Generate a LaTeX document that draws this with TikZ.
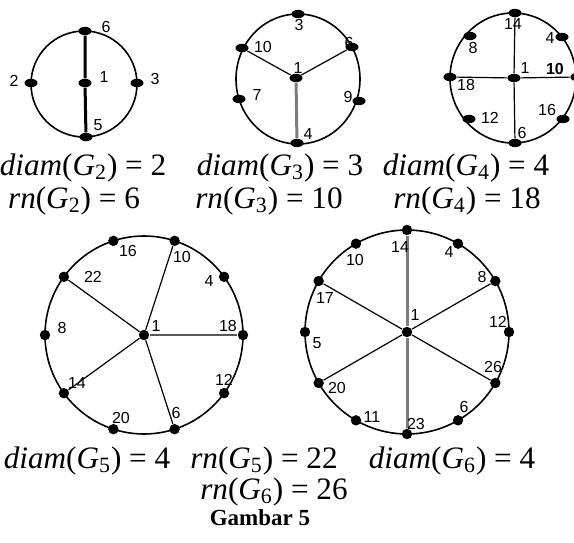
\documentclass[tikz,border=0pt]{standalone}
\usepackage{fontspec}
\setmainfont{Liberation Serif}
\newfontfamily\labelfont{Liberation Sans}
\usetikzlibrary{positioning,calc}
\usetikzlibrary{shapes.geometric}
\definecolor{SpokeGray}{RGB}{125,125,125}
\tikzset{
	blob/.style={ellipse,fill=black,inner sep=0pt,minimum width=6.5pt,minimum height=4.2pt},
	v/.style={circle,fill=black,inner sep=0pt,minimum size=5.2pt},
	rim/.style={draw=black,line width=0.8pt},
	edge/.style={draw=black,line width=0.6pt},
	heavy/.style={draw=SpokeGray,line width=1.5pt},
	num/.style={font=\labelfont\fontsize{8}{9}\selectfont,inner sep=0pt},
	eq/.style={font=\fontsize{15.6}{17}\selectfont,anchor=base,inner sep=0pt},
}
\begin{document}
\begin{tikzpicture}[x=0.5pt,y=-0.5pt]
	\useasboundingbox (0,0) rectangle (574,542);
	\clip (0,0) rectangle (574,542);
	% G2
	\coordinate (ac) at (84,84);
	\draw[rim] (ac) circle [radius=53];
	\node[blob] (a6) at (85,31) {};
	\node[blob] (a2) at (31,83) {};
	\node[blob] (a1) at (85,83) {};
	\node[blob] (a3) at (137,83) {};
	\node[blob] (a5) at (86,137) {};
	\draw[draw=black,line width=1.5pt] (a6) -- (a1) -- (a5);
	\node[num] (la6) at (106,27) {6};
	\node[num] (la2) at (14,81) {2};
	\node[num] (la1) at (104,77) {1};
	\node[num] (la3) at (155,79) {3};
	\node[num] (la5) at (98,125) {5};
	% G3
	\coordinate (bc) at (298,79);
	\draw[rim] (bc) ellipse [x radius=62,y radius=65];
	\node[blob] (b3) at (298,14) {};
	\node[blob] (b10) at (242,48) {};
	\node[blob] (b6) at (352,47) {};
	\node[blob] (b1) at (296,78) {};
	\node[blob] (b7) at (239,99) {};
	\node[blob] (b9) at (359,101) {};
	\node[blob] (b4) at (297,143) {};
	\draw[edge] (b1) -- (b10);
	\draw[edge] (b1) -- (b6);
	\draw[heavy] (b1) -- (b4);
	\node[num] (lb3) at (299,25) {3};
	\node[num] (lb10) at (263,47) {10};
	\node[num] (lb6) at (349,43) {6};
	\node[num] (lb1) at (298,68) {1};
	\node[num] (lb7) at (257,95) {7};
	\node[num] (lb9) at (348,97) {9};
	\node[num] (lb4) at (308,134) {4};
	% G4
	\coordinate (cc) at (513,78);
	\draw[rim] (cc) ellipse [x radius=63,y radius=65];
	\node[blob] (c14) at (515,13) {};
	\node[blob] (c8) at (470,36) {};
	\node[blob] (c4) at (562,37) {};
	\node[blob] (c18) at (450,77) {};
	\node[blob] (c1) at (514,78) {};
	\node[blob] (c10) at (577,77) {};
	\node[blob] (c12) at (469,119) {};
	\node[blob] (c16) at (563,119) {};
	\node[blob] (c6) at (515,143) {};
	\draw[edge] (c14) -- (c1) -- (c6);
	\draw[edge] (c18) -- (c1) -- (c10);
	\node[num] (lc14) at (513,24) {14};
	\node[num] (lc8) at (473,48) {8};
	\node[num] (lc4) at (550,38) {4};
	\node[num] (lc18) at (466,85) {18};
	\node[num] (lc1) at (525,68) {1};
	\node[num] (lc10) at (555,69) {\textbf{10}};
	\node[num] (lc12) at (490,118) {12};
	\node[num] (lc16) at (547,110) {16};
	\node[num] (lc6) at (522,133) {6};
	% G5
	\coordinate (dc) at (144,335);
	\draw[rim] (dc) circle [radius=99];
	\node[v] (d1) at (dc) {};
	\foreach \a/\n in {0/18,36/4,72/10,108/16,144/22,180/8,216/14,252/20,288/6,324/12}
		\node[v] (d\n) at ($(dc)+(-\a:99)$) {};
	\draw[edge] (d1) -- (d10);
	\draw[edge] (d1) -- (d22);
	\draw[edge] (d1) -- (d14);
	\draw[edge] (d1) -- (d6);
	\draw[draw=SpokeGray!70!black,line width=1.1pt] (d1) -- (d18);
	\node[num] (ld16) at (128,251) {16};
	\node[num] (ld10) at (182,257) {10};
	\node[num] (ld22) at (93,277) {22};
	\node[num] (ld4) at (209,281) {4};
	\node[num] (ld8) at (62,328) {8};
	\node[num] (ld1) at (156,326) {1};
	\node[num] (ld18) at (228,326) {18};
	\node[num] (ld14) at (77,383) {14};
	\node[num] (ld12) at (224,380) {12};
	\node[num] (ld20) at (121,418) {20};
	\node[num] (ld6) at (176,413) {6};
	% G6
	\coordinate (ec) at (407,332);
	\draw[rim] (ec) circle [radius=102];
	\node[v] (e1) at (ec) {};
	\foreach \a/\n in {0/12,30/8,60/4,90/14,120/10,150/17,180/5,210/20,240/11,270/23,300/6,330/26}
		\node[v] (e\n) at ($(ec)+(-\a:102)$) {};
	\draw[heavy] (e14) -- (e1) -- (e23);
	\draw[edge] (e1) -- (e17);
	\draw[edge] (e1) -- (e26);
	\draw[edge] (e1) -- (e8);
	\draw[edge] (e1) -- (e20);
	\node[num] (le14) at (400,247) {14};
	\node[num] (le10) at (355,260) {10};
	\node[num] (le4) at (449,252) {4};
	\node[num] (le17) at (325,298) {17};
	\node[num] (le8) at (482,277) {8};
	\node[num] (le5) at (317,343) {5};
	\node[num] (le1) at (415,315) {1};
	\node[num] (le12) at (498,322) {12};
	\node[num] (le20) at (337,388) {20};
	\node[num] (le26) at (493,367) {26};
	\node[num] (le11) at (372,417) {11};
	\node[num] (le6) at (464,407) {6};
	\node[num] (le23) at (416,424) {23};
	% captions
	\node[eq] (diam2) at (83,175) {\textit{diam}(\textit{G}\textsubscript{2}) = 2};
	\node[eq] (diam3) at (280,175) {\textit{diam}(\textit{G}\textsubscript{3}) = 3};
	\node[eq] (diam4) at (466,175) {\textit{diam}(\textit{G}\textsubscript{4}) = 4};
	\node[eq] (rn2) at (74,208) {\textit{rn}(\textit{G}\textsubscript{2}) = 6};
	\node[eq] (rn3) at (269,208) {\textit{rn}(\textit{G}\textsubscript{3}) = 10};
	\node[eq] (rn4) at (467,208) {\textit{rn}(\textit{G}\textsubscript{4}) = 18};
	\node[eq] (diam5) at (87,468) {\textit{diam}(\textit{G}\textsubscript{5}) = 4};
	\node[eq] (rn5) at (264,468) {\textit{rn}(\textit{G}\textsubscript{5}) = 22};
	\node[eq] (diam6) at (452,468) {\textit{diam}(\textit{G}\textsubscript{6}) = 4};
	\node[eq] (rn6) at (274,499) {\textit{rn}(\textit{G}\textsubscript{6}) = 26};
	\node[eq,font=\bfseries\fontsize{11.5}{13}\selectfont] (cap) at (260,525) {Gambar 5};
\end{tikzpicture}
\end{document}
